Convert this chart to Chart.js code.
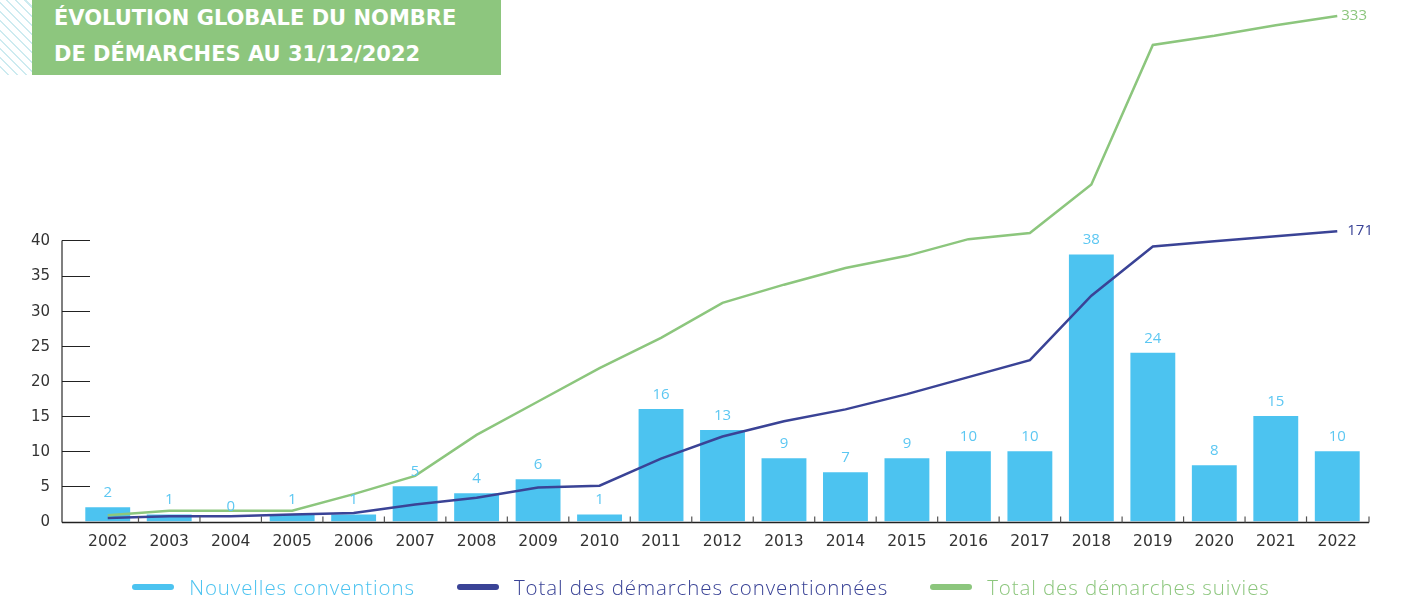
<!DOCTYPE html>
<html lang="fr">
<head>
<meta charset="utf-8">
<title>Évolution globale du nombre de démarches</title>
<script src="https://cdn.jsdelivr.net/npm/chart.js@4.4.1/dist/chart.umd.min.js"></script>
<style>
  html, body { margin: 0; padding: 0; background: #fff; }
  .cadre { position: relative; width: 1402px; height: 601px; overflow: hidden; }
  #graphique { position: absolute; left: 0; top: 0; }
  .hachures { position: absolute; left: 0; top: 0; width: 32px; height: 75px;
    background: repeating-linear-gradient(45deg, #fff 0 5px, #cdebf0 5px 6.5px); }
  .titre { position: absolute; left: 32px; top: 0; width: 447px; height: 75px; padding-left: 22px;
    background: #8dc67e; color: #fff; font: bold 21px "DejaVu Sans", sans-serif; line-height: 36px; }
  .legende { position: absolute; left: 0; top: 573px; width: 1402px; height: 28px; display: flex;
    justify-content: center; align-items: center; gap: 42px;
    font: 300 20.5px "Open Sans", sans-serif; letter-spacing: 0.9px; line-height: 28px; }
  .legende span { display: inline-flex; align-items: center; white-space: nowrap; }
  .legende i { display: inline-block; width: 42px; height: 6px; border-radius: 3px; margin-right: 15px; }
</style>
</head>
<body>
<div class="cadre">
  <canvas id="graphique" width="1402" height="601"></canvas>
  <div class="hachures"></div>
  <div class="titre">ÉVOLUTION GLOBALE DU NOMBRE<br>DE DÉMARCHES AU 31/12/2022</div>
  <div class="legende" id="legende"></div>
</div>
<script>
// Données
const annees = ['2002', '2003', '2004', '2005', '2006', '2007', '2008', '2009', '2010', '2011', '2012',
    '2013', '2014', '2015', '2016', '2017', '2018', '2019', '2020', '2021', '2022'];
const nouvellesConventions = [2, 1, 0, 1, 1, 5, 4, 6, 1, 16, 13, 9, 7, 9, 10, 10, 38, 24, 8, 15, 10];
const totalConventionnees = [2, 3, 3, 4, 5, 10, 14, 20, 21, 37, 50, 59, 66, 75, 85, 95, 133, 162, 165, 168, 171];
const totalSuivies = [4, 7, 7, 7, 18, 30, 57, 79, 101, 121, 144, 156, 167, 175, 186, 190, 222, 314, 320, 327, 333];
const graduations = [0, 5, 10, 15, 20, 25, 30, 35, 40];

const BLEU_CLAIR = '#4cc3f0';
const BLEU_FONCE = '#3a4396';
const VERT = '#8cc67d';

// axes, séparateurs et étiquettes de valeurs
const decor = {
    id: 'decor',
    afterDatasetsDraw(chart) {
        const { ctx, chartArea, scales: { x, y } } = chart;
        const base = y.getPixelForValue(0) + 1;
        const axeX = chartArea.left - 15;
        ctx.save();

        ctx.strokeStyle = '#555';
        ctx.lineWidth = 1.5;
        ctx.beginPath();
        ctx.moveTo(axeX, base);
        ctx.lineTo(axeX, y.getPixelForValue(40));
        ctx.stroke();

        ctx.strokeStyle = '#222';
        ctx.lineWidth = 1;
        graduations.forEach(function (v) {
            if (!v) return;
            const py = Math.round(y.getPixelForValue(v)) + 0.5;
            ctx.beginPath();
            ctx.moveTo(axeX, py);
            ctx.lineTo(axeX + 28, py);
            ctx.stroke();
        });

        ctx.lineWidth = 1.5;
        ctx.beginPath();
        ctx.moveTo(axeX, base);
        ctx.lineTo(chartArea.right + 1, base);
        ctx.stroke();

        ctx.strokeStyle = '#555';
        ctx.lineWidth = 1.2;
        for (let i = 1; i <= annees.length; i++) {
            const px = i < annees.length
                ? (x.getPixelForValue(i - 1) + x.getPixelForValue(i)) / 2
                : chartArea.right + 1;
            ctx.beginPath();
            ctx.moveTo(px, base);
            ctx.lineTo(px, base - 6);
            ctx.stroke();
        }

        ctx.font = '15px "Open Sans"';
        ctx.textAlign = 'center';
        ctx.textBaseline = 'bottom';
        ctx.fillStyle = '#5cc7f2';
        chart.getDatasetMeta(0).data.forEach(function (barre, i) {
            ctx.fillText(String(nouvellesConventions[i]), barre.x, barre.y - 7);
        });

        ctx.textAlign = 'left';
        ctx.textBaseline = 'middle';
        [[1, 10], [2, 4]].forEach(function (e) {
            const d = e[0];
            const pts = chart.getDatasetMeta(d).data;
            const dernier = pts[pts.length - 1];
            const valeurs = chart.data.datasets[d].data;
            ctx.fillStyle = chart.data.datasets[d].borderColor;
            ctx.fillText(String(valeurs[valeurs.length - 1]), dernier.x + e[1], dernier.y);
        });
        ctx.restore();
    },
};

const graphique = new Chart(document.getElementById('graphique'), {
    data: {
        labels: annees,
        datasets: [{
            type: 'bar',
            label: 'Nouvelles conventions',
            data: nouvellesConventions,
            backgroundColor: BLEU_CLAIR,
            barPercentage: 0.73,
            categoryPercentage: 1,
            yAxisID: 'y',
            order: 10,
        }, {
            type: 'line',
            label: 'Total des démarches conventionnées',
            data: totalConventionnees,
            borderColor: BLEU_FONCE,
            backgroundColor: BLEU_FONCE,
            borderWidth: 2.5,
            pointRadius: 0,
            tension: 0,
            yAxisID: 'y2',
            order: 2,
        }, {
            type: 'line',
            label: 'Total des démarches suivies',
            data: totalSuivies,
            borderColor: VERT,
            backgroundColor: VERT,
            borderWidth: 2.5,
            pointRadius: 0,
            tension: 0,
            yAxisID: 'y3',
            order: 1,
        }],
    },
    options: {
        responsive: false,
        animation: false,
        layout: { padding: { top: 10, right: 34, bottom: 39, left: 0 } },
        plugins: { legend: { display: false }, tooltip: { enabled: false } },
        scales: {
            x: {
                grid: { display: false, drawTicks: false },
                border: { display: false },
                ticks: { color: '#333', padding: 11, font: { family: 'DejaVu Sans', size: 15.5 } },
            },
            y: {
                min: 0,
                max: 72.8,
                grid: { display: false, drawTicks: false },
                border: { display: false },
                ticks: { color: '#333', padding: 27, labelOffset: 1, font: { family: 'DejaVu Sans', size: 15 } },
                afterBuildTicks: function (scale) {
                    scale.ticks = graduations.map(function (v) { return { value: v }; });
                },
                afterFit: function (scale) {
                    scale.width = 77;
                    scale.paddingTop = 0;
                    scale.paddingBottom = 0;
                },
            },
            y2: { display: false, min: 0, max: 301.3 },
            y3: { display: false, min: 0, max: 337 },
        },
    },
    plugins: [decor],
});

// légende HTML construite à partir des séries
const legende = document.getElementById('legende');
graphique.data.datasets.forEach(function (ds) {
    const couleur = ds.type === 'bar' ? ds.backgroundColor : ds.borderColor;
    const item = document.createElement('span');
    item.style.color = couleur;
    item.innerHTML = '<i style="background:' + couleur + '"></i>' + ds.label;
    legende.appendChild(item);
});
</script>
</body>
</html>
